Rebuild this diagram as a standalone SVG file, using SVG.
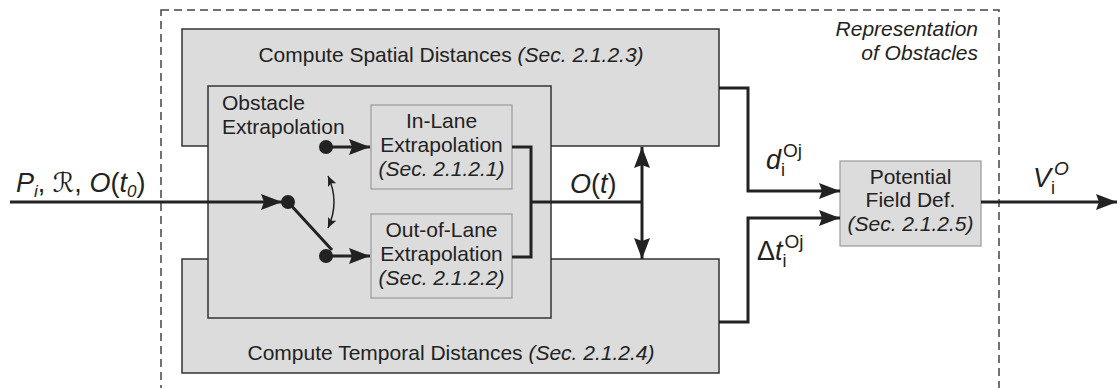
<svg xmlns="http://www.w3.org/2000/svg" width="1118" height="388" viewBox="0 0 1118 388">
<style>
text{font-family:"Liberation Sans",Arial,sans-serif;fill:#222;}
.lbl{font-size:21px;}
.it{font-style:italic;}
.big{font-size:27px;}
.outer{fill:#dcdcdc;stroke:#333;stroke-width:1.5;}
.inner{fill:#dcdcdc;stroke:#9a9a9a;stroke-width:1.2;}
.thick{fill:none;stroke:#222;stroke-width:3;}
.thin{fill:none;stroke:#222;stroke-width:1.5;}
</style>
<defs>
<marker id="ah" markerUnits="userSpaceOnUse" markerWidth="24" markerHeight="18" refX="21" refY="8" orient="auto-start-reverse"><path d="M0,0 L21,8 L0,16 L3,8 Z" fill="#222"/></marker>
<marker id="ahs" markerUnits="userSpaceOnUse" markerWidth="12" markerHeight="10" refX="10" refY="4.5" orient="auto-start-reverse"><path d="M0,0 L10,4.5 L0,9 L2,4.5 Z" fill="#222"/></marker>
</defs>
<g id="frame">
<rect x="161" y="10" width="838" height="400" fill="none" stroke="#444" stroke-width="1.5" stroke-dasharray="8,5"/>
<text class="lbl it" x="978" y="36" text-anchor="end">Representation</text>
<text class="lbl it" x="978" y="60" text-anchor="end">of Obstacles</text>
</g>
<g id="spatial">
<rect class="outer" x="182" y="29" width="537" height="117"/>
<text class="lbl" x="451" y="62" text-anchor="middle">Compute Spatial Distances <tspan class="it">(Sec. 2.1.2.3)</tspan></text>
</g>
<g id="temporal">
<rect class="outer" x="182" y="259" width="537" height="114"/>
<text class="lbl" x="451" y="360" text-anchor="middle">Compute Temporal Distances <tspan class="it">(Sec. 2.1.2.4)</tspan></text>
</g>
<g id="extrapolation">
<rect class="outer" x="208" y="86" width="343" height="232"/>
<text class="lbl" x="222" y="110">Obstacle</text>
<text class="lbl" x="222" y="134">Extrapolation</text>
</g>
<g id="inlane">
<rect class="inner" x="371" y="105" width="141" height="84"/>
<text class="lbl" x="441.5" y="128" text-anchor="middle">In-Lane</text>
<text class="lbl" x="441.5" y="152" text-anchor="middle">Extrapolation</text>
<text class="lbl it" x="441.5" y="176" text-anchor="middle">(Sec. 2.1.2.1)</text>
</g>
<g id="outlane">
<rect class="inner" x="371" y="214" width="141" height="84"/>
<text class="lbl" x="441.5" y="237" text-anchor="middle">Out-of-Lane</text>
<text class="lbl" x="441.5" y="261" text-anchor="middle">Extrapolation</text>
<text class="lbl it" x="441.5" y="285" text-anchor="middle">(Sec. 2.1.2.2)</text>
</g>
<g id="potential">
<rect class="inner" x="840" y="161" width="141" height="85"/>
<text class="lbl" x="910.5" y="184" text-anchor="middle">Potential</text>
<text class="lbl" x="910.5" y="207" text-anchor="middle">Field Def.</text>
<text class="lbl it" x="910.5" y="231" text-anchor="middle">(Sec. 2.1.2.5)</text>
</g>
<g id="connectors">
<path class="thick" d="M10,202 H282" marker-end="url(#ah)"/>
<circle cx="288" cy="202" r="7" fill="#222"/>
<path class="thick" d="M288,202 L332,250"/>
<circle cx="326" cy="147" r="7" fill="#222"/>
<circle cx="326" cy="256" r="7" fill="#222"/>
<path class="thick" d="M326,147 H370" marker-end="url(#ah)"/>
<path class="thick" d="M326,256 H370" marker-end="url(#ah)"/>
<path class="thin" d="M328,176 Q340,202 328,228" marker-start="url(#ahs)" marker-end="url(#ahs)"/>
<path class="thick" d="M512,147 H531 V257 H512"/>
<path class="thick" d="M531,202 H642"/>
<path class="thick" d="M642,202 V147" marker-end="url(#ah)"/>
<path class="thick" d="M642,202 V259" marker-end="url(#ah)"/>
<path class="thick" d="M719,88 H748 V191 H840" marker-end="url(#ah)"/>
<path class="thick" d="M719,322 H748 V218 H840" marker-end="url(#ah)"/>
<path class="thick" d="M981,202 H1117" marker-end="url(#ah)"/>
</g>
<g id="labels">
<text class="big" x="16" y="192"><tspan class="it">P</tspan><tspan class="it" font-size="17" dy="5">i</tspan><tspan dy="-5">, </tspan><tspan font-family="'DejaVu Serif','DejaVu Sans',serif">ℛ</tspan><tspan>, </tspan><tspan class="it">O</tspan><tspan>(</tspan><tspan class="it">t</tspan><tspan class="it" font-size="17" dy="5">0</tspan><tspan dy="-5">)</tspan></text>
<text class="big" x="570" y="193"><tspan class="it">O</tspan>(<tspan class="it">t</tspan>)</text>
<text class="big" x="766" y="169"><tspan class="it">d</tspan><tspan font-size="18" dy="7">i</tspan><tspan font-size="19" dx="-2" dy="-19">Oj</tspan></text>
<text class="big" x="757" y="260"><tspan>Δ</tspan><tspan class="it">t</tspan><tspan font-size="18" dy="7">i</tspan><tspan font-size="19" dx="-2" dy="-19">Oj</tspan></text>
<text class="big" x="1033" y="187"><tspan class="it">V</tspan><tspan font-size="18" dy="7">i</tspan><tspan class="it" font-size="19" dx="-1" dy="-19">O</tspan></text>
</g>
</svg>
